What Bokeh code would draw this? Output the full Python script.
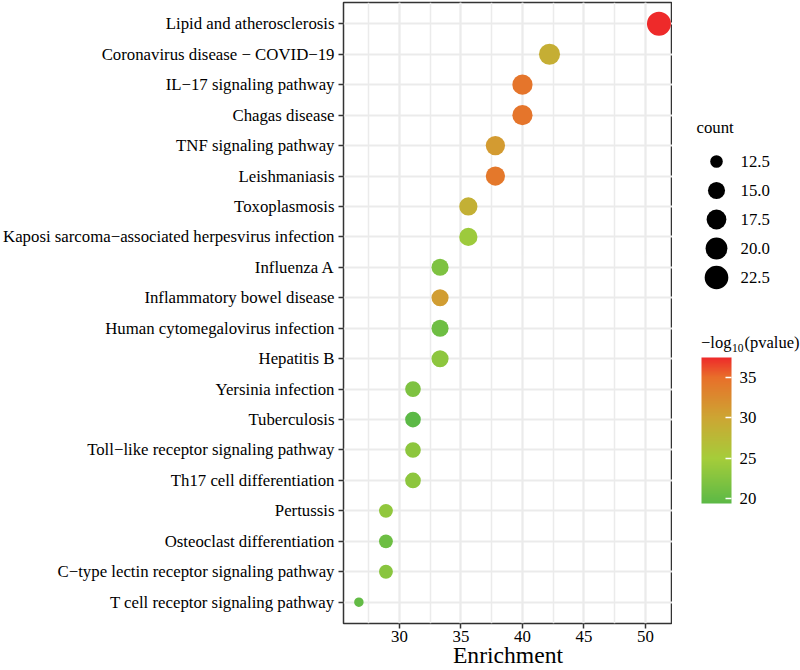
from bokeh.plotting import figure
from bokeh.models import (ColumnDataSource, LinearColorMapper, ColorBar, FactorRange,
                          Range1d, FixedTicker, SingleIntervalTicker, Label)
from bokeh.layouts import row
from bokeh.embed import file_html
from bokeh.resources import INLINE
from bokeh.core.properties import value
import numpy as np

# ---------------- data ----------------
terms = [
    "Lipid and atherosclerosis",
    "Coronavirus disease \u2212 COVID\u221219",
    "IL\u221217 signaling pathway",
    "Chagas disease",
    "TNF signaling pathway",
    "Leishmaniasis",
    "Toxoplasmosis",
    "Kaposi sarcoma\u2212associated herpesvirus infection",
    "Influenza A",
    "Inflammatory bowel disease",
    "Human cytomegalovirus infection",
    "Hepatitis B",
    "Yersinia infection",
    "Tuberculosis",
    "Toll\u2212like receptor signaling pathway",
    "Th17 cell differentiation",
    "Pertussis",
    "Osteoclast differentiation",
    "C\u2212type lectin receptor signaling pathway",
    "T cell receptor signaling pathway",
]
enrichment = [51.1, 42.2, 40.0, 40.0, 37.8, 37.8, 35.6, 35.6, 33.3, 33.3,
              33.3, 33.3, 31.1, 31.1, 31.1, 31.1, 28.9, 28.9, 28.9, 26.7]
counts = [23, 19, 18, 18, 17, 17, 16, 16, 15, 15,
          15, 15, 14, 14, 14, 14, 13, 13, 13, 12]
neglogp = [37.5, 29.0, 34.5, 34.5, 31.0, 34.3, 28.8, 24.3, 22.0, 30.8,
           20.8, 23.1, 22.0, 19.4, 23.1, 23.1, 23.5, 20.7, 22.8, 19.9]

count_breaks = [12.5, 15.0, 17.5, 20.0, 22.5]
count_break_labels = ["12.5", "15.0", "17.5", "20.0", "22.5"]
color_ticks = [20, 25, 30, 35]

# ---------------- styles ----------------
FONT = "Liberation Serif"
cmin, cmax = min(counts), max(counts)


def size_of(c):
    return 9.5 + 14.5 * np.sqrt(max(c - cmin, 0) / (cmax - cmin))


anchors = [(0.0, (0x5C, 0xB9, 0x46)), (0.31, (0xA6, 0xCD, 0x3A)),
           (0.586, (0xCD, 0xA6, 0x33)), (0.862, (0xE8, 0x70, 0x2A)),
           (1.0, (0xEE, 0x2A, 0x2A))]
pal = []
for i in range(256):
    t = i / 255
    for (t0, c0), (t1, c1) in zip(anchors[:-1], anchors[1:]):
        if t0 <= t <= t1:
            f = (t - t0) / (t1 - t0)
            rgb = [round(a + (b - a) * f) for a, b in zip(c0, c1)]
            pal.append("#%02x%02x%02x" % tuple(rgb))
            break

mapper = LinearColorMapper(palette=pal, low=min(neglogp), high=max(neglogp))

src = ColumnDataSource(dict(term=terms, enrichment=enrichment, count=counts,
                            neglogp=neglogp, size=[size_of(c) for c in counts]))

p = figure(width=672, height=670,
           y_range=FactorRange(factors=terms[::-1], range_padding=0.2,
                               range_padding_units="absolute"),
           x_range=Range1d(25.45, 52.2),
           output_backend="svg", toolbar_location=None,
           min_border_left=343, min_border_right=0, min_border_top=2,
           min_border_bottom=0)

p.scatter(x="enrichment", y="term", size="size", source=src,
          fill_color={"field": "neglogp", "transform": mapper}, line_color=None)

p.xaxis.ticker = SingleIntervalTicker(interval=5, num_minor_ticks=2)
p.xgrid.minor_grid_line_color = "#EBEBEB"
p.xgrid.minor_grid_line_width = 1.5
p.grid.grid_line_color = "#EBEBEB"
p.grid.grid_line_width = 2
p.outline_line_color = "#333333"
p.outline_line_width = 1.5
p.background_fill_color = "white"

for ax in (p.xaxis, p.yaxis):
    ax.axis_line_color = None
    ax.major_tick_line_color = "#333333"
    ax.major_tick_line_width = 1.5
    ax.major_tick_out = 5
    ax.major_tick_in = 0
    ax.minor_tick_line_color = None
    ax.major_label_text_font = FONT
    ax.major_label_text_font_size = "16.8px"
    ax.major_label_text_color = "black"
p.yaxis.major_label_standoff = 4
p.xaxis.major_label_standoff = 2

p.xaxis.axis_label = "Enrichment"
p.xaxis.axis_label_text_font = FONT
p.xaxis.axis_label_text_font_size = "23.6px"
p.xaxis.axis_label_text_font_style = "normal"
p.xaxis.axis_label_text_color = "black"
p.xaxis.axis_label_standoff = -3

# ---------------- legend panel (coordinates = page pixels) ----------------
FRAME_BOTTOM = 623
lg = figure(width=128, height=670, x_range=Range1d(672, 800),
            y_range=Range1d(FRAME_BOTTOM, 2),
            output_backend="svg", toolbar_location=None, x_axis_type=None,
            y_axis_type=None, min_border=0)
lg.grid.visible = False
lg.outline_line_color = None

lg.add_layout(Label(x=696, y=127, text="count", text_font=FONT, text_font_size="16.8px",
                    text_baseline="middle", text_color="black"))
legend_y = [161, 190, 219, 248, 277]
lsrc = ColumnDataSource(dict(y=legend_y, size=[size_of(c) for c in count_breaks],
                             label=count_break_labels, x=[716] * 5, tx=[740] * 5))
lg.scatter(x="x", y="y", size="size", source=lsrc, fill_color="black", line_color=None)
lg.text(x="tx", y="y", text="label", source=lsrc, text_font=value(FONT),
        text_font_size="16.8px", text_baseline="middle", text_color="black")

lg.add_layout(Label(x=700.5, y=342, text="\u2212log", text_font=FONT, text_font_size="16.5px",
                    text_baseline="middle", text_color="black"))
lg.add_layout(Label(x=731.5, y=347, text="10", text_font=FONT, text_font_size="11.5px",
                    text_baseline="middle", text_color="black"))
lg.add_layout(Label(x=744, y=342, text="(pvalue)", text_font=FONT, text_font_size="16.5px",
                    text_baseline="middle", text_color="black"))

cb = ColorBar(color_mapper=mapper, ticker=FixedTicker(ticks=color_ticks),
              width=30, height=146, location=(29, FRAME_BOTTOM - 503), padding=0,
              background_fill_alpha=0, border_line_color=None, bar_line_color=None,
              major_label_text_font=FONT, major_label_text_font_size="16.8px",
              major_label_text_color="black",
              major_tick_line_color="white", major_tick_in=6, major_tick_out=0,
              major_tick_line_width=1.5, label_standoff=8)
lg.add_layout(cb)

layout = row(p, lg)
open("out.html", "w").write(file_html(layout, INLINE))
